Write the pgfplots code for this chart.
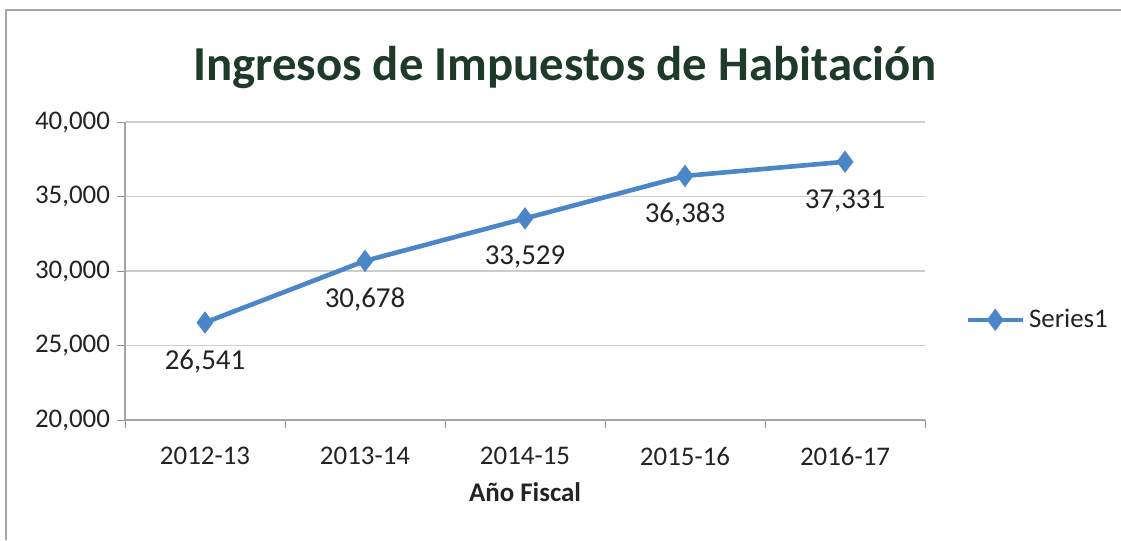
\documentclass[border=0pt]{standalone}
\usepackage{pgfplots}
\pgfplotsset{compat=1.18}
\usepackage{fontspec}
\setmainfont{Carlito}
\definecolor{serieblue}{RGB}{74,134,200}
\definecolor{titlegreen}{RGB}{30,58,40}
\definecolor{txt}{RGB}{35,35,35}
\definecolor{gridc}{RGB}{205,205,205}
\begin{document}
\begin{tikzpicture}[x=1bp,y=1bp]
% marco de la página (1px = 0.5bp)
\useasboundingbox (0,0) rectangle (560.5,270);
\fill[white] (0,0) rectangle (560.5,270);
\draw[gray!70, line width=0.8bp] (3,0) -- (3,265) -- (560.5,265);

\node[font=\bfseries\fontsize{24.5}{28}\selectfont, text=titlegreen] at (282.5,236) {Ingresos de Impuestos de Habitación};

\begin{axis}[
    at={(62.5bp,60bp)},
    anchor=south west,
    scale only axis,
    width=400bp,
    height=149bp,
    xmin=-0.5, xmax=4.5,
    ymin=20000, ymax=40000,
    xtick={0,1,2,3,4},
    xticklabels={2012-13,2013-14,2014-15,2015-16,2016-17},
    minor xtick={-0.5,0.5,1.5,2.5,3.5,4.5},
    major x tick style={draw=none},
    minor x tick style={gridc!70!black, line width=0.5bp},
    ytick={20000,25000,30000,35000,40000},
    scaled y ticks=false,
    yticklabel style={/pgf/number format/.cd, fixed, 1000 sep={,}, assume math mode=true},
    xticklabel style={yshift=-6bp},
    tick label style={font=\fontsize{13.5}{15}\selectfont, text=txt},
    tick align=outside,
    major tick length=4bp,
    minor tick length=4bp,
    ytick style={gridc!70!black, line width=0.5bp},
    axis lines*=left,
    axis line style={gridc!80!black, line width=0.7bp},
    ymajorgrids,
    grid style={gridc, line width=0.7bp},
    xlabel={Año Fiscal},
    xlabel style={font=\bfseries\fontsize{13.5}{15}\selectfont, text=txt, yshift=-2bp},
    clip=false,
    nodes near coords,
    nodes near coords style={font=\fontsize{14.5}{16}\selectfont, text=txt,
        anchor=center, yshift=-19.5bp,
        /pgf/number format/.cd, fixed, 1000 sep={,}, assume math mode=true},
    legend style={at={(1.05,0.336)}, anchor=west, draw=none, fill=none,
        font=\fontsize{13.5}{15}\selectfont, text=txt,
        legend cell align=left, inner sep=0pt},
    legend image code/.code={
        \draw[#1] (0bp,0bp) -- (27.5bp,0bp);
        \draw[#1, mark repeat=1] plot coordinates {(13.75bp,0bp)};
    },
]
\addplot[serieblue, line width=2.3bp, mark=diamond*, mark size=5.2bp,
    mark options={fill=serieblue, draw=serieblue, line width=0.5bp}]
coordinates {
    (0, 26541)
    (1, 30678)
    (2, 33529)
    (3, 36383)
    (4, 37331)
};
\addlegendentry{Series1}
\end{axis}
\end{tikzpicture}
\end{document}
